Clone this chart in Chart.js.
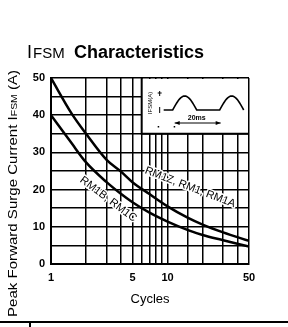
<!DOCTYPE html>
<html>
<head>
<meta charset="utf-8">
<script src="https://cdn.jsdelivr.net/npm/chart.js@4/dist/chart.umd.min.js"></script>
<style>
  html, body { margin: 0; padding: 0; background: #fff; }
  #wrap { width: 288px; height: 327px; }
</style>
</head>
<body>
<div id="wrap"><canvas id="surge" width="288" height="327"></canvas></div>
<script>
// values (cycles vs peak surge current in A)
const cycles = [1, 1.5, 2, 3, 4, 5, 7, 10, 15, 20, 30, 50];
const rm1zAmps = [50, 40.5, 35, 28, 24.8, 22, 18.8, 15.5, 12.4, 10.6, 8.5, 6.2];
const rm1bAmps = [40, 32.5, 27.3, 22, 18.8, 16.6, 13.8, 11.4, 9.1, 7.8, 6.4, 4.7];
const xTickLabels = [1, 5, 10, 50];
const yTickLabels = [0, 10, 20, 30, 40, 50];

const FONT = '"Liberation Sans", Arial, sans-serif';

function toPoints(xs, ys) {
    return xs.map((x, i) => ({ x: x, y: ys[i] }));
}

// text along the curves, anchored in data units
const curveLabels = [
    { text: 'RM1Z, RM1, RM1A', x: 15.6, y: 20.6, angle: 21 },
    { text: 'RM1B, RM1C', x: 3.1, y: 17.4, angle: 37 }
];

const decorations = {
    id: 'decorations',
    afterDatasetsDraw(chart) {
        const ctx = chart.ctx;
        const xs = chart.scales.x;
        const ys = chart.scales.y;
        ctx.save();
        ctx.fillStyle = '#000';
        ctx.strokeStyle = '#000';

        // title
        ctx.textBaseline = 'alphabetic';
        ctx.textAlign = 'left';
        ctx.font = '18px ' + FONT;
        ctx.fillText('I', 27, 58);
        ctx.font = '15px ' + FONT;
        ctx.fillText('FSM', 33, 58);
        ctx.font = 'bold 18px ' + FONT;
        ctx.fillText('Characteristics', 74, 58);

        // y axis title (rotated, drawn in pieces for the small FSM)
        const parts = [
            ['Peak Forward Surge Current I', '13px '],
            ['FSM', '9px '],
            [' (A)', '13px ']
        ];
        let total = 0;
        parts.forEach(p => {
            ctx.font = p[1] + FONT;
            total += ctx.measureText(p[0]).width;
        });
        ctx.save();
        ctx.translate(17, 317);
        ctx.rotate(-Math.PI / 2);
        ctx.scale(247 / total, 1);
        ctx.textBaseline = 'alphabetic';
        let px = 0;
        parts.forEach(p => {
            ctx.font = p[1] + FONT;
            ctx.fillText(p[0], px, 0);
            px += ctx.measureText(p[0]).width;
        });
        ctx.restore();

        // x axis title
        ctx.font = '13px ' + FONT;
        ctx.textAlign = 'center';
        ctx.textBaseline = 'middle';
        ctx.fillText('Cycles', (chart.chartArea.left + chart.chartArea.right) / 2, 299);

        // inset box with the surge waveform
        const bx = xs.getPixelForValue(6);
        const by = ys.getPixelForValue(35);
        const top = chart.chartArea.top;
        const right = chart.chartArea.right;
        ctx.fillStyle = '#fff';
        ctx.fillRect(bx, top + 1, right - bx - 1, by - top - 1);
        ctx.fillStyle = '#000';
        ctx.lineWidth = 2;
        ctx.beginPath();
        ctx.moveTo(bx, top);
        ctx.lineTo(bx, by);
        ctx.lineTo(right, by);
        ctx.stroke();

        ctx.save();
        ctx.translate(bx + 9, top + 25);
        ctx.rotate(-Math.PI / 2);
        ctx.font = '6px ' + FONT;
        ctx.textAlign = 'center';
        ctx.textBaseline = 'middle';
        ctx.fillText('IFSM(A)', 0, 0);
        ctx.restore();

        ctx.lineWidth = 1;
        ctx.beginPath();
        ctx.moveTo(bx + 18, top + 13); ctx.lineTo(bx + 18, top + 18);
        ctx.moveTo(bx + 18, top + 29); ctx.lineTo(bx + 18, top + 35);
        ctx.moveTo(bx + 16, top + 15); ctx.lineTo(bx + 20, top + 15);
        ctx.stroke();

        const base = top + 32;
        const peak = top + 18;
        ctx.lineWidth = 1.6;
        ctx.beginPath();
        ctx.moveTo(bx + 22, base);
        ctx.lineTo(bx + 31, base);
        for (let t = 0; t <= 24; t++) {
            ctx.lineTo(bx + 31 + t, base - (base - peak) * Math.sin(Math.PI * t / 24));
        }
        ctx.lineTo(bx + 78, base);
        for (let t = 0; t <= 24; t++) {
            ctx.lineTo(bx + 78 + t, base - (base - peak) * Math.sin(Math.PI * t / 24));
        }
        ctx.stroke();

        ctx.font = 'bold 7px ' + FONT;
        ctx.textAlign = 'center';
        ctx.textBaseline = 'middle';
        ctx.fillText('20ms', bx + 55, top + 40);
        ctx.lineWidth = 1;
        const ay = top + 45;
        ctx.beginPath();
        ctx.moveTo(bx + 33, ay); ctx.lineTo(bx + 79, ay);
        ctx.stroke();
        ctx.beginPath();
        ctx.moveTo(bx + 33, ay); ctx.lineTo(bx + 38, ay - 2); ctx.lineTo(bx + 38, ay + 2); ctx.closePath();
        ctx.moveTo(bx + 79, ay); ctx.lineTo(bx + 74, ay - 2); ctx.lineTo(bx + 74, ay + 2); ctx.closePath();
        ctx.fill();
        ctx.fillRect(bx + 16, top + 48, 1.5, 1.5);
        ctx.fillRect(bx + 32, top + 48, 1.5, 1.5);

        // curve labels, white halo so grid lines break behind them
        ctx.font = '11px ' + FONT;
        ctx.textAlign = 'center';
        ctx.textBaseline = 'middle';
        ctx.lineJoin = 'round';
        curveLabels.forEach(l => {
            ctx.save();
            ctx.translate(xs.getPixelForValue(l.x), ys.getPixelForValue(l.y));
            ctx.rotate(l.angle * Math.PI / 180);
            ctx.strokeStyle = '#fff';
            ctx.lineWidth = 3;
            ctx.strokeText(l.text, 0, 0);
            ctx.fillText(l.text, 0, 0);
            ctx.restore();
        });

        // page rule at the bottom
        ctx.strokeStyle = '#000';
        ctx.lineWidth = 2;
        ctx.beginPath();
        ctx.moveTo(0, 322); ctx.lineTo(288, 322);
        ctx.moveTo(30, 322); ctx.lineTo(30, 327);
        ctx.stroke();

        ctx.restore();
    }
};

new Chart(document.getElementById('surge'), {
    type: 'line',
    data: {
        datasets: [
            {
                label: 'RM1Z, RM1, RM1A',
                data: toPoints(cycles, rm1zAmps),
                borderColor: '#000',
                borderWidth: 2.5,
                pointRadius: 0,
                cubicInterpolationMode: 'monotone',
                fill: false
            },
            {
                label: 'RM1B, RM1C',
                data: toPoints(cycles, rm1bAmps),
                borderColor: '#000',
                borderWidth: 2.5,
                pointRadius: 0,
                cubicInterpolationMode: 'monotone',
                fill: false
            }
        ]
    },
    options: {
        responsive: false,
        animation: false,
        layout: { padding: { top: 78, right: 39, left: 0, bottom: 0 } },
        plugins: {
            legend: { display: false },
            tooltip: { enabled: false }
        },
        scales: {
            x: {
                type: 'logarithmic',
                min: 1,
                max: 50,
                afterFit: scale => { scale.height = 63; },
                grid: { color: '#000', lineWidth: 1.5, drawTicks: false },
                border: { color: '#000', width: 2 },
                ticks: {
                    autoSkip: false,
                    maxRotation: 0,
                    padding: 7,
                    color: '#000',
                    font: { family: FONT, size: 11, weight: 'bold' },
                    callback: value => xTickLabels.includes(value) ? String(value) : ''
                }
            },
            y: {
                min: 0,
                max: 50,
                afterFit: scale => { scale.width = 51; },
                grid: { color: '#000', lineWidth: 1.5, drawTicks: false },
                border: { color: '#000', width: 2 },
                ticks: {
                    stepSize: 5,
                    padding: 6,
                    color: '#000',
                    font: { family: FONT, size: 11, weight: 'bold' },
                    callback: value => yTickLabels.includes(value) ? String(value) : ''
                }
            }
        }
    },
    plugins: [decorations]
});
</script>
</body>
</html>
